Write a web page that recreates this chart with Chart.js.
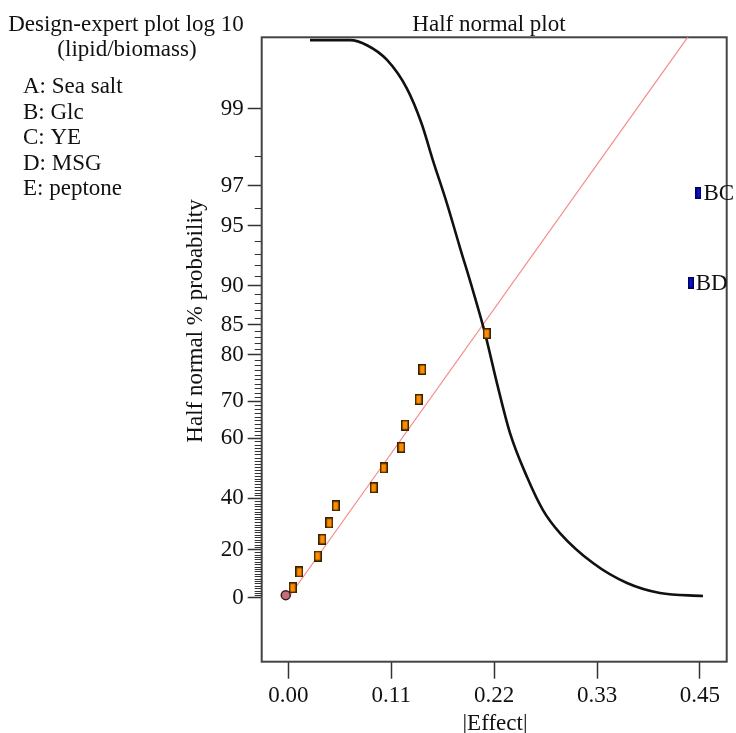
<!DOCTYPE html>
<html>
<head>
<meta charset="utf-8">
<title>Half normal plot</title>
<script src="https://cdn.jsdelivr.net/npm/chart.js@4.4.1/dist/chart.umd.min.js"></script>
<style>
  html, body { margin: 0; padding: 0; background: #fff; }
  #wrap { width: 736px; height: 733px; }
</style>
</head>
<body>
<div id="wrap"><canvas id="myChart" width="736" height="733"></canvas></div>
<script>
// header text
var headerLines = ["Design-expert plot log 10", "(lipid/biomass)"];
var factorNames = ["A: Sea salt", "B: Glc", "C: YE", "D: MSG", "E: peptone"];

// axis ticks
var xTickValues = [0, 0.1125, 0.225, 0.3375, 0.45];
var xTickLabels = ["0.00", "0.11", "0.22", "0.33", "0.45"];
var probTicks = [0, 20, 40, 60, 70, 80, 85, 90, 95, 97, 99];
var probTickLabels = ["0", "20", "40", "60", "70", "80", "85", "90", "95", "97", "99"];

// effects (|effect|, half normal % probability)
var effectX = [0.0048, 0.0120, 0.0321, 0.0372, 0.0448, 0.0518, 0.0934, 0.1043, 0.1235, 0.1276, 0.1426, 0.1465, 0.2169];
var effectProb = [4.2, 10.8, 17.4, 24.2, 30.7, 37.2, 43.8, 50.6, 57.2, 63.7, 70.4, 77.1, 83.6];
var errorX = [-0.0028];
var errorProb = [1.1];
var namedEffects = ["BD", "BC"];
var namedX = [0.4400, 0.4484];
var namedProb = [90.3, 96.7];

// reference line through the origin
var fitX = [0, 0.4373];
var fitProb = [0, 99.69];

// black curve
var curveX = [0.0237, 0.0675, 0.0860, 0.1079, 0.1297, 0.1458, 0.1580, 0.1733, 0.1875, 0.2017, 0.2150, 0.2281, 0.2424, 0.2610, 0.2784, 0.2970, 0.3331, 0.3703, 0.4063, 0.4534];
var curveProb = [99.67, 99.67, 99.64, 99.54, 99.27, 98.75, 97.89, 96.24, 93.54, 89.50, 83.68, 74.2, 61.44, 47.52, 35.6, 26.68, 14.5, 6.18, 1.98, 0.72];

// inverse normal cdf (Acklam)
function probit(p) {
  var a = [-3.969683028665376e+01, 2.209460984245205e+02, -2.759285104469687e+02, 1.383577518672690e+02, -3.066479806614716e+01, 2.506628277459239e+00];
  var b = [-5.447609879822406e+01, 1.615858368580409e+02, -1.556989798598866e+02, 6.680131188771972e+01, -1.328068155288572e+01];
  var c = [-7.784894002430293e-03, -3.223964580411365e-01, -2.400758277161838e+00, -2.549732539343734e+00, 4.374664141464968e+00, 2.938163982698783e+00];
  var d = [7.784695709041462e-03, 3.224671290700398e-01, 2.445134137142996e+00, 3.754408661907416e+00];
  var plow = 0.02425, q, r;
  if (p < plow) {
    q = Math.sqrt(-2 * Math.log(p));
    return (((((c[0] * q + c[1]) * q + c[2]) * q + c[3]) * q + c[4]) * q + c[5]) /
      ((((d[0] * q + d[1]) * q + d[2]) * q + d[3]) * q + 1);
  }
  if (p <= 1 - plow) {
    q = p - 0.5;
    r = q * q;
    return (((((a[0] * r + a[1]) * r + a[2]) * r + a[3]) * r + a[4]) * r + a[5]) * q /
      (((((b[0] * r + b[1]) * r + b[2]) * r + b[3]) * r + b[4]) * r + 1);
  }
  q = Math.sqrt(-2 * Math.log(1 - p));
  return -(((((c[0] * q + c[1]) * q + c[2]) * q + c[3]) * q + c[4]) * q + c[5]) /
    ((((d[0] * q + d[1]) * q + d[2]) * q + d[3]) * q + 1);
}

// half normal % probability -> position on the axis
function toZ(pct) {
  return probit(0.5 + pct / 200);
}

function points(xs, ps) {
  return xs.map(function(x, i) { return { x: x, y: toZ(ps[i]) }; });
}

function makeRect(w, h, fill, stroke) {
  var c = document.createElement("canvas");
  c.width = w;
  c.height = h;
  var g = c.getContext("2d");
  g.fillStyle = fill;
  g.fillRect(0, 0, w, h);
  g.strokeStyle = stroke;
  g.lineWidth = 1.5;
  g.strokeRect(0.75, 0.75, w - 1.5, h - 1.5);
  return c;
}

var FONT = '"Liberation Serif", "Times New Roman", serif';
var orangeBox = makeRect(8, 11, "#ff8c00", "#3a2200");
var blueBox = makeRect(6, 12, "#0a14d2", "#00005a");

// minor ticks every 1 %
var minorProbs = [];
for (var p = 1; p < 99; p++) {
  if (probTicks.indexOf(p) < 0) minorProbs.push(p);
}

var decorations = {
  id: "decorations",
  beforeDatasetsDraw: function(chart) {
    var ctx = chart.ctx, a = chart.chartArea;
    ctx.save();
    ctx.strokeStyle = "#444";
    ctx.lineWidth = 2;
    ctx.strokeRect(a.left, a.top, a.right - a.left, a.bottom - a.top);
    // minor ticks
    var ys = chart.scales.y;
    ctx.strokeStyle = "#333";
    ctx.lineWidth = 1;
    ctx.beginPath();
    minorProbs.forEach(function(p) {
      var py = Math.round(ys.getPixelForValue(toZ(p))) + 0.5;
      ctx.moveTo(a.left - 7, py);
      ctx.lineTo(a.left, py);
    });
    ctx.stroke();
    ctx.restore();
  },
  afterDraw: function(chart) {
    var ctx = chart.ctx;
    var xs = chart.scales.x, ys = chart.scales.y;
    ctx.save();
    ctx.fillStyle = "#111";
    ctx.font = "23px " + FONT;
    ctx.textBaseline = "alphabetic";
    ctx.textAlign = "center";
    ctx.fillText(headerLines[0], 126, 31);
    ctx.fillText(headerLines[1], 127, 56);
    ctx.fillText("Half normal plot", 489, 31);
    ctx.fillText("|Effect|", 495, 730);
    ctx.textAlign = "left";
    factorNames.forEach(function(name, i) {
      ctx.fillText(name, 23, 93 + i * 25.5);
    });
    // labels of the large effects
    ctx.textBaseline = "middle";
    namedEffects.forEach(function(name, i) {
      ctx.fillText(name, xs.getPixelForValue(namedX[i]) + 5, ys.getPixelForValue(toZ(namedProb[i])) + 1);
    });
    // y axis title
    ctx.translate(196, 321);
    ctx.rotate(-Math.PI / 2);
    ctx.textAlign = "center";
    ctx.fillText("Half normal % probability", 0, 0);
    ctx.restore();
  }
};

window.onload = function() {
  var ctx = document.getElementById("myChart").getContext("2d");
  var chart = new Chart(ctx, {
    type: "scatter",
    data: {
      datasets: [
        {
          data: points(namedX, namedProb),
          pointStyle: blueBox,
          pointRadius: 5,
          order: 0
        },
        {
          data: points(effectX, effectProb),
          pointStyle: orangeBox,
          pointRadius: 5,
          order: 1
        },
        {
          data: points(errorX, errorProb),
          pointStyle: "circle",
          pointRadius: 4.5,
          backgroundColor: "#c4707a",
          borderColor: "#3a1a1a",
          borderWidth: 1.5,
          order: 2
        },
        {
          data: points(curveX, curveProb),
          showLine: true,
          borderColor: "#111",
          borderWidth: 2.6,
          pointRadius: 0,
          cubicInterpolationMode: "monotone",
          order: 3
        },
        {
          data: points(fitX, fitProb),
          showLine: true,
          borderColor: "#f28a8a",
          borderWidth: 1.2,
          pointRadius: 0,
          order: 4
        }
      ]
    },
    options: {
      responsive: false,
      animation: false,
      events: [],
      layout: { padding: { top: 37.3, right: 9.3, left: 0, bottom: 0 } },
      plugins: {
        legend: { display: false },
        tooltip: { enabled: false }
      },
      scales: {
        x: {
          type: "linear",
          min: -0.0291,
          max: 0.4793,
          bounds: "data",
          border: { display: false },
          grid: { drawOnChartArea: false, tickLength: 17, tickWidth: 1.5, tickColor: "#333" },
          ticks: {
            autoSkip: false,
            maxRotation: 0,
            padding: 3,
            color: "#111",
            font: { family: FONT, size: 23 },
            callback: function(value, index) { return xTickLabels[index]; }
          },
          afterBuildTicks: function(scale) {
            scale.ticks = xTickValues.map(function(v) { return { value: v }; });
          },
          afterFit: function(scale) { scale.height = 733 - 661.7; }
        },
        y: {
          type: "linear",
          min: -0.337,
          max: 2.953,
          bounds: "data",
          border: { display: false },
          grid: { drawOnChartArea: false, tickLength: 14, tickWidth: 1.5, tickColor: "#333" },
          ticks: {
            autoSkip: false,
            padding: 4,
            color: "#111",
            font: { family: FONT, size: 23 },
            callback: function(value, index) { return probTickLabels[index]; }
          },
          afterBuildTicks: function(scale) {
            scale.ticks = probTicks.map(function(p) { return { value: toZ(p) }; });
          },
          afterFit: function(scale) { scale.width = 261.7; }
        }
      }
    },
    plugins: [decorations]
  });
};
</script>
</body>
</html>
